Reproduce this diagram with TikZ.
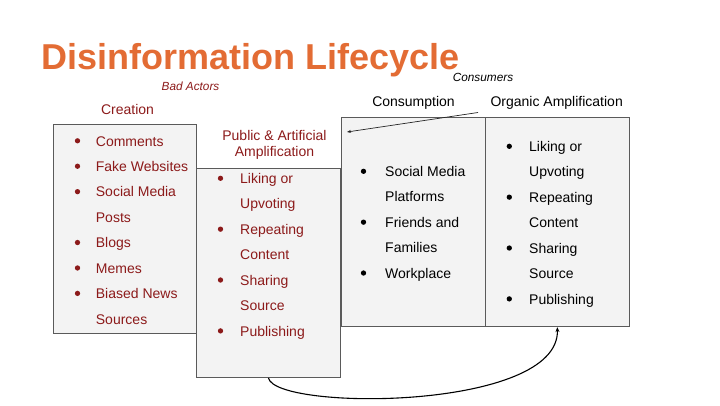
\documentclass[tikz,border=0pt]{standalone}
\usepackage{fontspec}
\setmainfont{Liberation Sans}
\usetikzlibrary{arrows.meta}
\definecolor{titleorange}{RGB}{227,108,52}
\definecolor{darkred}{RGB}{140,26,26}
\definecolor{boxfill}{RGB}{243,243,243}
\definecolor{boxline}{RGB}{90,90,90}
\begin{document}
\begin{tikzpicture}[x=1pt,y=-1pt,
  stagebox/.style={draw=boxline, fill=boxfill, line width=0.9pt, inner sep=0, anchor=north west},
  item/.style={anchor=base west, inner sep=0, font=\fontsize{14}{16}\selectfont},
  heading/.style={anchor=base, inner sep=0, font=\fontsize{14}{16}\selectfont},
  note/.style={anchor=base, inner sep=0, font=\fontsize{11.8}{14}\selectfont\itshape},
  dot/.style={circle, inner sep=0, minimum size=5.3pt},
  conn/.style={draw=black, line width=1.1pt, -{Stealth[length=5pt,width=4pt]}},
  thinconn/.style={draw=black!85, line width=0.7pt, -{Stealth[length=4pt,width=3pt]}}
]
\useasboundingbox (0,0) rectangle (720,405);

% title and group labels
\node[anchor=base west, inner sep=0, text=titleorange,
      font=\fontsize{36}{40}\selectfont\bfseries] (title) at (41.5,69.5) {Disinformation Lifecycle};
\node[note, text=darkred] (badactors) at (190.5,90) {Bad Actors};
\node[note, text=black] (consumers) at (483,81.5) {Consumers};

% stage boxes
\node[stagebox, minimum width=143.4pt, minimum height=208.7pt] (creation) at (52.5,124) {};
\node[stagebox, minimum width=144pt, minimum height=209pt] (public) at (196,168) {};
\node[stagebox, minimum width=143.7pt, minimum height=208.9pt] (consumption) at (341,117.3) {};
\node[stagebox, minimum width=144.3pt, minimum height=208.9pt] (organic) at (484.7,117.3) {};

% stage headings
\node[heading, text=darkred] (creationhead) at (127.5,114) {Creation};
\node[heading, text=darkred] (publichead1) at (274.5,140) {Public \& Artificial};
\node[heading, text=darkred] (publichead2) at (274.5,156) {Amplification};
\node[heading, text=black] (consumptionhead) at (413.5,106.5) {Consumption};
\node[heading, text=black] (organichead) at (556.7,106.5) {Organic Amplification};

% creation items
\foreach \b/\t [count=\i from 0] in {1/Comments, 1/Fake Websites, 1/Social Media, 0/Posts,
    1/Blogs, 1/Memes, 1/Biased News, 0/Sources} {
  \node[item, text=darkred] (cr\i) at (95.7,146+25.43*\i) {\t};
  \ifnum\b=1 \node[dot, fill=darkred] (crdot\i) at (77.5,140.8+25.43*\i) {}; \fi
}

% public & artificial amplification items
\foreach \b/\t [count=\i from 0] in {1/Liking or, 0/Upvoting, 1/Repeating, 0/Content,
    1/Sharing, 0/Source, 1/Publishing} {
  \node[item, text=darkred] (pa\i) at (240,183.5+25.43*\i) {\t};
  \ifnum\b=1 \node[dot, fill=darkred] (padot\i) at (220.5,178.3+25.43*\i) {}; \fi
}

% consumption items
\foreach \b/\t [count=\i from 0] in {1/Social Media, 0/Platforms, 1/Friends and,
    0/Families, 1/Workplace} {
  \node[item, text=black] (co\i) at (385,176.5+25.43*\i) {\t};
  \ifnum\b=1 \node[dot, fill=black] (codot\i) at (363.5,171.3+25.43*\i) {}; \fi
}

% organic amplification items
\foreach \b/\t [count=\i from 0] in {1/Liking or, 0/Upvoting, 1/Repeating, 0/Content,
    1/Sharing, 0/Source, 1/Publishing} {
  \node[item, text=black] (oa\i) at (529,151.5+25.43*\i) {\t};
  \ifnum\b=1 \node[dot, fill=black] (oadot\i) at (509.3,146.3+25.43*\i) {}; \fi
}

% connectors
\coordinate (consumerstail) at (478,112.5);
\coordinate (consumershead) at (347,132);
\draw[thinconn] (consumerstail) -- (consumershead);
\draw[conn] (public.south) .. controls (275,411) and (560,411) .. (organic.south);
\end{tikzpicture}
\end{document}
